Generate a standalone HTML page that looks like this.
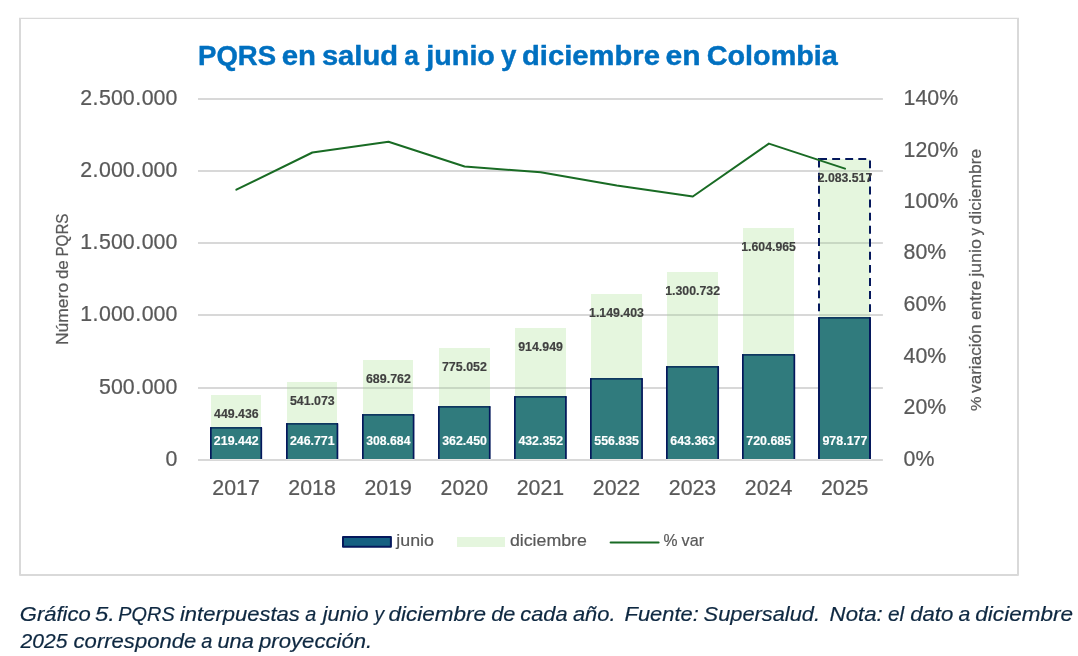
<!DOCTYPE html>
<html lang="es">
<head>
<meta charset="utf-8">
<title>PQRS en salud a junio y diciembre en Colombia</title>
<style>
html,body{margin:0;padding:0;background:#fff;}
body{width:1078px;height:656px;overflow:hidden;position:relative;font-family:"Liberation Sans",sans-serif;}
svg{position:absolute;left:0;top:0;display:block;}
text{font-family:"Liberation Sans",sans-serif;font-kerning:none;white-space:pre;}
.ax{font-size:21.33px;fill:#595959;stroke:#595959;stroke-width:0.22px;}
.dl{font-size:12.4px;font-weight:bold;fill:#404040;stroke:#404040;stroke-width:0.15px;}
.dlw{font-size:12.4px;font-weight:bold;fill:#fff;stroke:#fff;stroke-width:0.15px;}
.lg{font-size:16.8px;fill:#595959;stroke:#595959;stroke-width:0.2px;}
.at{font-size:16.8px;fill:#595959;stroke:#595959;stroke-width:0.22px;}
.atl{font-size:17.2px;}
.lgp{font-size:15.6px;}
.atp{font-size:15.4px;}
.atr{font-size:16.4px;}
.ttl{font-size:28.4px;font-weight:bold;fill:#0070c0;stroke:#0070c0;stroke-width:0.45px;}
.cap{font-size:21.0px;font-style:italic;fill:#0e2841;stroke:#0e2841;stroke-width:0.2px;}
</style>
</head>
<body>
<svg width="1078" height="656" viewBox="0 0 1078 656">

<path d="M20 18 V575 H1018 V18" fill="none" stroke="#d9d9d9" stroke-width="2" stroke-linejoin="round"/>
<path d="M19 18.4 H1019" fill="none" stroke="#d9d9d9" stroke-width="1.2"/>
<g>
<text class="ttl" transform="translate(198.06 65.00) scale(0.9706 1)">PQRS </text>
<text class="ttl" transform="translate(281.75 65.00) scale(1.0340 1)">en </text>
<text class="ttl" transform="translate(321.88 65.00) scale(1.0266 1)">salud </text>
<text class="ttl" transform="translate(404.23 65.00) scale(0.9311 1)">a </text>
<text class="ttl" transform="translate(426.35 65.00) scale(1.0110 1)">junio </text>
<text class="ttl" transform="translate(500.98 65.00) scale(0.9727 1)">y </text>
<text class="ttl" transform="translate(522.00 65.00) scale(1.0286 1)">diciembre </text>
<text class="ttl" transform="translate(665.53 65.00) scale(1.0571 1)">en </text>
<text class="ttl" transform="translate(706.72 65.00) scale(1.0140 1)">Colombia </text>
</g>
<g stroke="#d8d8d8" stroke-width="2">
<line x1="198.0" y1="388.0" x2="882.9" y2="388.0"/>
<line x1="198.0" y1="315.0" x2="882.9" y2="315.0"/>
<line x1="198.0" y1="243.0" x2="882.9" y2="243.0"/>
<line x1="198.0" y1="171.0" x2="882.9" y2="171.0"/>
<line x1="198.0" y1="99.0" x2="882.9" y2="99.0"/>
</g>
<g class="ax" text-anchor="end">
<text x="177.3" y="466.1">0</text>
<text x="177.3" y="394.1">500<tspan dx="0.55">.</tspan><tspan dx="0.55">000</tspan></text>
<text x="177.3" y="321.1">1<tspan dx="0.55">.</tspan><tspan dx="0.55">000</tspan><tspan dx="0.55">.</tspan><tspan dx="0.55">000</tspan></text>
<text x="177.3" y="249.1">1<tspan dx="0.55">.</tspan><tspan dx="0.55">500</tspan><tspan dx="0.55">.</tspan><tspan dx="0.55">000</tspan></text>
<text x="177.3" y="177.1">2<tspan dx="0.55">.</tspan><tspan dx="0.55">000</tspan><tspan dx="0.55">.</tspan><tspan dx="0.55">000</tspan></text>
<text x="177.3" y="105.1">2<tspan dx="0.55">.</tspan><tspan dx="0.55">500</tspan><tspan dx="0.55">.</tspan><tspan dx="0.55">000</tspan></text>
</g>
<g class="ax">
<text x="903.6" y="466.1">0%</text>
<text x="903.6" y="414.1">20%</text>
<text x="903.6" y="362.8">40%</text>
<text x="903.6" y="311.1">60%</text>
<text x="903.6" y="259.1">80%</text>
<text x="903.6" y="208.1">100%</text>
<text x="903.6" y="156.5">120%</text>
<text x="903.6" y="105.1">140%</text>
</g>
<g fill="#e5f6de">
<rect x="211" y="395" width="50" height="64"/>
<rect x="287" y="382" width="50" height="77"/>
<rect x="363" y="360" width="50" height="99"/>
<rect x="439" y="348" width="51" height="111"/>
<rect x="515" y="328" width="51" height="131"/>
<rect x="591" y="294" width="51" height="165"/>
<rect x="667" y="272" width="51" height="187"/>
<rect x="743" y="228" width="51" height="231"/>
<rect x="819" y="159" width="51" height="300"/>
</g>
<g stroke="#c8d8c3" stroke-width="2">
<line x1="287" y1="388" x2="337" y2="388"/>
<line x1="363" y1="388" x2="413" y2="388"/>
<line x1="439" y1="388" x2="490" y2="388"/>
<line x1="515" y1="388" x2="566" y2="388"/>
<line x1="591" y1="388" x2="642" y2="388"/>
<line x1="591" y1="315" x2="642" y2="315"/>
<line x1="667" y1="388" x2="718" y2="388"/>
<line x1="667" y1="315" x2="718" y2="315"/>
<line x1="743" y1="388" x2="794" y2="388"/>
<line x1="743" y1="315" x2="794" y2="315"/>
<line x1="743" y1="243" x2="794" y2="243"/>
<line x1="819" y1="388" x2="870" y2="388"/>
<line x1="819" y1="315" x2="870" y2="315"/>
<line x1="819" y1="243" x2="870" y2="243"/>
<line x1="819" y1="171" x2="870" y2="171"/>
</g>
<g fill="none" stroke="#05185c" stroke-width="2" stroke-dasharray="7.9 5.17">
<path d="M819.0 159.7 V316"/>
<path d="M819.1 159.0 H870.0 V316"/>
<path d="M818.0 159.0 h1.2" stroke-dasharray="none"/>
</g>
<g fill="#307b7d">
<rect x="210.50" y="427.5" width="51.15" height="31.5"/>
<rect x="286.50" y="423.5" width="51.30" height="35.5"/>
<rect x="362.50" y="414.5" width="51.45" height="44.5"/>
<rect x="438.50" y="406.5" width="51.60" height="52.5"/>
<rect x="514.50" y="396.5" width="51.75" height="62.5"/>
<rect x="590.50" y="378.5" width="51.90" height="80.5"/>
<rect x="666.50" y="366.5" width="52.05" height="92.5"/>
<rect x="742.50" y="354.5" width="52.20" height="104.5"/>
<rect x="819.00" y="317.5" width="51.00" height="141.5"/>
</g>
<g fill="none" stroke="#0f3860" stroke-width="1.7">
<path d="M210.30 427.85 H261.85"/>
<path d="M286.30 423.85 H338.00"/>
<path d="M362.30 414.85 H414.15"/>
<path d="M438.30 406.85 H490.30"/>
<path d="M514.30 396.85 H566.45"/>
<path d="M590.30 378.85 H642.60"/>
<path d="M666.30 366.85 H718.75"/>
<path d="M742.30 354.85 H794.90"/>
<path d="M818.30 317.85 H870.70"/>
</g>
<g fill="none" stroke="#05185c" stroke-width="1.7" stroke-linecap="round">
<path d="M210.85 459 V427.85 M261.30 427.85 V459"/>
<path d="M286.85 459 V423.85 M337.45 423.85 V459"/>
<path d="M362.85 459 V414.85 M413.60 414.85 V459"/>
<path d="M438.85 459 V406.85 M489.75 406.85 V459"/>
<path d="M514.85 459 V396.85 M565.90 396.85 V459"/>
<path d="M590.85 459 V378.85 M642.05 378.85 V459"/>
<path d="M666.85 459 V366.85 M718.20 366.85 V459"/>
<path d="M742.85 459 V354.85 M794.35 354.85 V459"/>
<path d="M819 459 V318 M870 318 V459" stroke-width="2"/>
</g>
<line x1="198.0" y1="460.0" x2="882.9" y2="460.0" stroke="#d8d8d8" stroke-width="2"/>
<g fill="#e7e4e2">
<rect x="210" y="459" width="52.15" height="1"/>
<rect x="286" y="459" width="52.30" height="1"/>
<rect x="362" y="459" width="52.45" height="1"/>
<rect x="438" y="459" width="52.60" height="1"/>
<rect x="514" y="459" width="52.75" height="1"/>
<rect x="590" y="459" width="52.90" height="1"/>
<rect x="666" y="459" width="53.05" height="1"/>
<rect x="742" y="459" width="53.20" height="1"/>
<rect x="818" y="459" width="53.35" height="1"/>
</g>
<polyline points="236.4,189.7 312.4,152.5 388.5,141.7 464.6,166.5 540.7,172.2 616.8,185.6 692.8,196.5 768.9,143.6 845.0,168.6" fill="none" stroke="#196b24" stroke-width="2" stroke-linejoin="round" stroke-linecap="round"/>
<g>
<text class="dl" transform="translate(214.06 417.80) scale(0.9958 1)">449.436</text>
<text class="dl" transform="translate(289.95 404.80) scale(1.0002 1)">541.073</text>
<text class="dl" transform="translate(365.95 382.80) scale(1.0029 1)">689.762</text>
<text class="dl" transform="translate(441.95 370.80) scale(1.0047 1)">775.052</text>
<text class="dl" transform="translate(518.14 350.80) scale(1.0015 1)">914.949</text>
<text class="dl" transform="translate(589.07 316.80) scale(0.9938 1)">1.149.403</text>
<text class="dl" transform="translate(665.15 294.80) scale(0.9947 1)">1.300.732</text>
<text class="dl" transform="translate(741.24 250.80) scale(0.9919 1)">1.604.965</text>
<text class="dl" transform="translate(817.66 181.80) scale(0.9891 1)">2.083.517</text>
</g>
<g>
<text class="dlw" transform="translate(213.82 445.10) scale(1.0024 1)">219.442</text>
<text class="dlw" transform="translate(289.90 445.10) scale(0.9989 1)">246.771</text>
<text class="dlw" transform="translate(366.13 445.10) scale(0.9894 1)">308.684</text>
<text class="dlw" transform="translate(442.21 445.10) scale(0.9993 1)">362.450</text>
<text class="dlw" transform="translate(518.38 445.10) scale(0.9969 1)">432.352</text>
<text class="dlw" transform="translate(594.27 445.10) scale(0.9978 1)">556.835</text>
<text class="dlw" transform="translate(670.28 445.10) scale(1.0018 1)">643.363</text>
<text class="dlw" transform="translate(746.28 445.10) scale(1.0013 1)">720.685</text>
<text class="dlw" transform="translate(822.46 445.10) scale(1.0035 1)">978.177</text>
</g>
<g class="ax" text-anchor="middle">
<text x="236.1" y="494.55">2017</text>
<text x="312.1" y="494.55">2018</text>
<text x="388.2" y="494.55">2019</text>
<text x="464.3" y="494.55">2020</text>
<text x="540.4" y="494.55">2021</text>
<text x="616.5" y="494.55">2022</text>
<text x="692.5" y="494.55">2023</text>
<text x="768.6" y="494.55">2024</text>
<text x="844.7" y="494.55">2025</text>
</g>
<g>
<text class="at atl" transform="translate(67.80 345.03) rotate(-90) scale(1.0162 1)">Número </text>
<text class="at atl" transform="translate(67.80 279.11) rotate(-90) scale(0.9861 1)">de </text>
<text class="at atl" transform="translate(67.80 256.55) rotate(-90) scale(0.8830 1)">PQRS </text>
</g><g>
<text class="at atp" transform="translate(981.10 410.88) rotate(-90) scale(1.0560 1)">% </text>
<text class="at atr" transform="translate(981.10 392.91) rotate(-90) scale(1.0425 1)">variación </text>
<text class="at atr" transform="translate(981.10 320.04) rotate(-90) scale(1.0597 1)">entre </text>
<text class="at atr" transform="translate(981.10 276.86) rotate(-90) scale(1.0942 1)">junio </text>
<text class="at atr" transform="translate(981.10 235.44) rotate(-90) scale(0.9227 1)">y </text>
<text class="at atr" transform="translate(981.10 224.43) rotate(-90) scale(1.0649 1)">diciembre </text>
</g>
<rect x="343" y="536.9" width="47.9" height="9.9" fill="#156082" stroke="#05185c" stroke-width="2" stroke-linejoin="round"/>
<text class="lg" transform="translate(396.24 545.90) scale(1.0625 1)">junio </text>
<rect x="457" y="537" width="48" height="10" fill="#e5f6de"/>
<text class="lg" transform="translate(509.95 545.90) scale(1.0564 1)">diciembre </text>
<line x1="610.6" y1="542.45" x2="658.6" y2="542.45" stroke="#196b24" stroke-width="2" stroke-linecap="round"/>
<text class="lg lgp" transform="translate(663.44 545.90) scale(1.0111 1)">% </text>
<text class="lg" transform="translate(681.54 545.90) scale(0.9652 1)">var</text>
<g>
<text class="cap" transform="translate(19.81 620.70) scale(1.0487 1)">Gráfico </text>
<text class="cap" transform="translate(94.97 620.70) scale(1.1335 1)">5. </text>
<text class="cap" transform="translate(118.29 620.70) scale(0.9481 1)">PQRS </text>
<text class="cap" transform="translate(179.95 620.70) scale(1.0481 1)">interpuestas </text>
<text class="cap" transform="translate(305.25 620.70) scale(0.9438 1)">a </text>
<text class="cap" transform="translate(322.63 620.70) scale(1.0337 1)">junio </text>
<text class="cap" transform="translate(374.39 620.70) scale(0.9180 1)">y </text>
<text class="cap" transform="translate(388.44 620.70) scale(1.0721 1)">diciembre </text>
<text class="cap" transform="translate(491.17 620.70) scale(1.0333 1)">de </text>
<text class="cap" transform="translate(520.29 620.70) scale(1.0378 1)">cada </text>
<text class="cap" transform="translate(572.91 620.70) scale(1.0442 1)">año.  </text>
<text class="cap" transform="translate(624.53 620.70) scale(1.0441 1)">Fuente: </text>
<text class="cap" transform="translate(703.58 620.70) scale(1.0394 1)">Supersalud.  </text>
<text class="cap" transform="translate(829.62 620.70) scale(1.0574 1)">Nota: </text>
<text class="cap" transform="translate(888.00 620.70) scale(0.9932 1)">el </text>
<text class="cap" transform="translate(910.15 620.70) scale(1.0557 1)">dato </text>
<text class="cap" transform="translate(958.62 620.70) scale(1.0105 1)">a </text>
<text class="cap" transform="translate(975.34 620.70) scale(1.0732 1)">diciembre </text>
</g><g>
<text class="cap" transform="translate(20.52 647.70) scale(1.0066 1)">2025 </text>
<text class="cap" transform="translate(73.58 647.70) scale(1.0514 1)">corresponde </text>
<text class="cap" transform="translate(201.25 647.70) scale(0.9533 1)">a </text>
<text class="cap" transform="translate(217.48 647.70) scale(1.0377 1)">una </text>
<text class="cap" transform="translate(259.05 647.70) scale(1.0537 1)">proyección.</text>
</g>
</svg>
</body>
</html>
